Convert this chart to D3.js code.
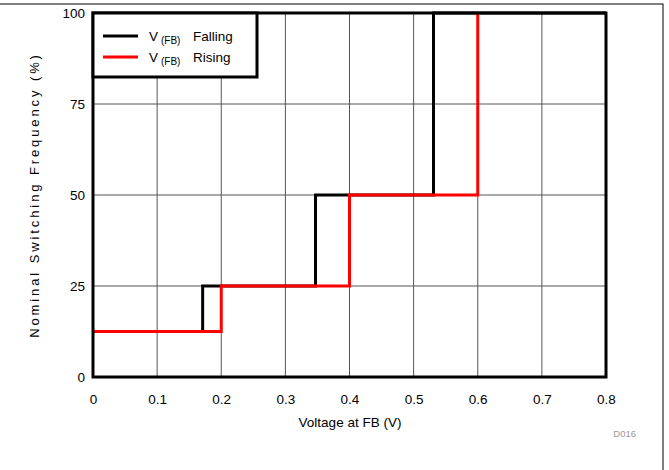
<!DOCTYPE html>
<html><head><meta charset="utf-8">
<script src="https://cdn.jsdelivr.net/npm/d3@7"></script>
<style>body{margin:0;background:#fff}svg{display:block;font-family:"Liberation Sans",Arial,sans-serif}</style>
</head><body><svg id="c" width="669" height="470"></svg>
<script>
const xTicks = [0, 0.1, 0.2, 0.3, 0.4, 0.5, 0.6, 0.7, 0.8];
const yTicks = [0, 25, 50, 75, 100];
const fallingX = [0, 0.171, 0.171, 0.347, 0.347, 0.531, 0.531, 0.8];
const fallingY = [12.5, 12.5, 25, 25, 50, 50, 100, 100];
const risingX = [0, 0.2, 0.2, 0.4, 0.4, 0.6, 0.6];
const risingY = [12.5, 12.5, 25, 25, 50, 50, 100];
const seriesNames = ["Falling", "Rising"];
const colors = ["#000000", "#ff0000"];

const svg = d3.select("#c");
const L = 93, R = 606, T = 13, B = 377;
const x = d3.scaleLinear().domain([0, 0.8]).range([L, R]);
const y = d3.scaleLinear().domain([0, 100]).range([B, T]);
const FF = "Liberation Sans, Arial, sans-serif";

// outer border
svg.append("rect").attr("x", -2).attr("y", 4).attr("width", 665).attr("height", 470)
  .attr("fill", "none").attr("stroke", "#000").attr("stroke-width", 1);

// grid
svg.append("g").selectAll("line").data(xTicks.slice(1, -1)).join("line")
  .attr("x1", d => x(d)).attr("x2", d => x(d)).attr("y1", T).attr("y2", B)
  .attr("stroke", "#555").attr("stroke-width", 1);
svg.append("g").selectAll("line").data(yTicks.slice(1, -1)).join("line")
  .attr("x1", L).attr("x2", R).attr("y1", d => y(d)).attr("y2", d => y(d))
  .attr("stroke", "#555").attr("stroke-width", 1);

// axes (labels)
const xAxis = d3.axisBottom(x).tickValues(xTicks).tickSize(0).tickPadding(17)
  .tickFormat(d => d === 0 ? "0" : d3.format(".1f")(d));
const gx = svg.append("g").attr("transform", `translate(0,${B})`).call(xAxis);
gx.select(".domain").remove();
gx.selectAll("text").attr("font-size", 13.5).attr("fill", "#000").attr("font-family", FF);

const yAxis = d3.axisLeft(y).tickValues(yTicks).tickSize(0).tickPadding(8);
const gy = svg.append("g").attr("transform", `translate(${L},0)`).call(yAxis);
gy.select(".domain").remove();
gy.selectAll("text").attr("font-size", 13.5).attr("fill", "#000").attr("font-family", FF);

// lines
const line = d3.line().x(d => x(d[0])).y(d => y(d[1]));
const fallingData = fallingX.map((v, i) => [v, fallingY[i]]);
const risingData = risingX.map((v, i) => [v, risingY[i]]);
svg.append("path").datum(fallingData).attr("d", line).attr("fill", "none")
  .attr("stroke", colors[0]).attr("stroke-width", 3);
svg.append("path").datum(risingData).attr("d", line).attr("fill", "none")
  .attr("stroke", colors[1]).attr("stroke-width", 3);

// frame
svg.append("rect").attr("x", L).attr("y", T).attr("width", R - L).attr("height", B - T)
  .attr("fill", "none").attr("stroke", "#000").attr("stroke-width", 3);

// legend
const lg = svg.append("g");
lg.append("rect").attr("x", L).attr("y", T).attr("width", 164).attr("height", 64)
  .attr("fill", "#fff").attr("stroke", "#000").attr("stroke-width", 3);
seriesNames.forEach((name, i) => {
  const yy = 36 + i * 21;
  lg.append("line").attr("x1", 103).attr("x2", 138).attr("y1", yy).attr("y2", yy)
    .attr("stroke", colors[i]).attr("stroke-width", 3);
  const t = lg.append("text").attr("x", 149).attr("y", yy + 5).attr("font-size", 13.5).attr("fill", "#000");
  t.append("tspan").text("V");
  t.append("tspan").attr("font-size", 10).attr("dy", 3).attr("dx", 3).text("(FB)");
  t.append("tspan").attr("dy", -3).attr("x", 193).text(name);
});

// titles
svg.append("text").attr("x", 350).attr("y", 427).attr("text-anchor", "middle")
  .attr("font-size", 13.5).text("Voltage at FB (V)");
svg.append("text").attr("transform", `translate(39,195) rotate(-90)`)
  .attr("text-anchor", "middle").attr("font-size", 13).attr("letter-spacing", 2.9)
  .text("Nominal Switching Frequency (%)");
svg.append("text").attr("x", 636).attr("y", 437).attr("text-anchor", "end")
  .attr("font-size", 9.5).attr("fill", "#999").text("D016");
</script></body></html>
